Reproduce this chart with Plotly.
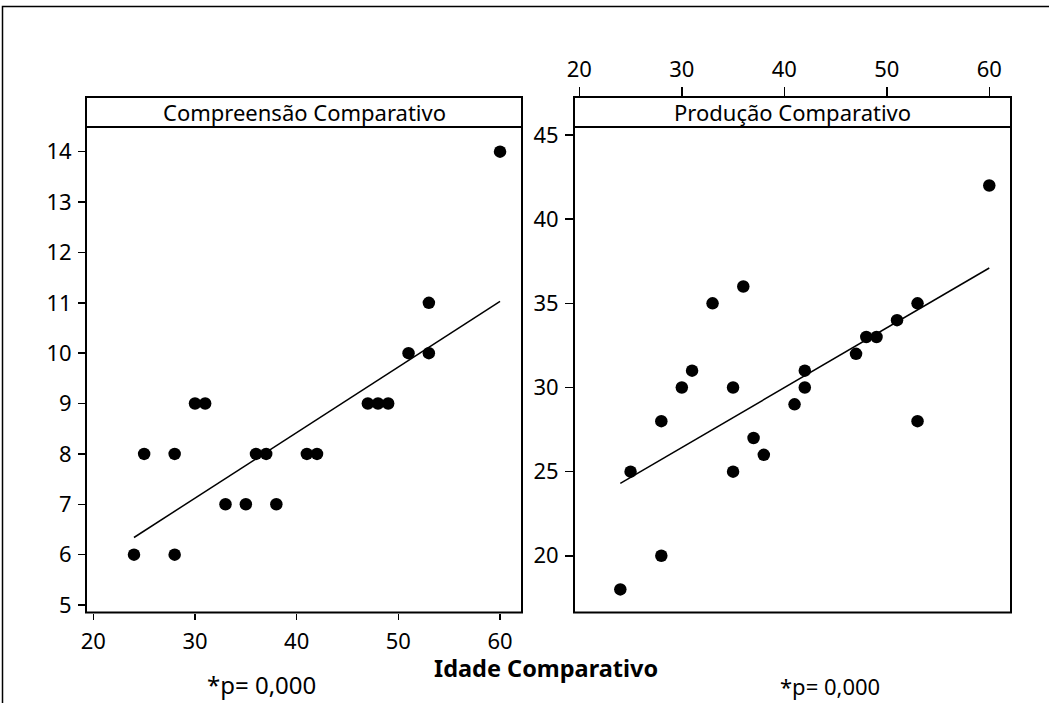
import plotly.graph_objects as go

W, H = 1049, 703

# ---------------- data ----------------
idade_comp = [24, 25, 28, 28, 30, 31, 33, 35, 36, 37, 38, 41, 42, 47, 48, 49, 51, 53, 53, 60]
compreensao = [6, 8, 8, 6, 9, 9, 7, 7, 8, 8, 7, 8, 8, 9, 9, 9, 10, 10, 11, 14]

idade_prod = [24, 25, 28, 28, 30, 31, 33, 35, 35, 36, 37, 38, 41, 42, 42, 47, 48, 49, 51, 53, 53, 60]
producao = [18, 25, 28, 20, 30, 31, 35, 30, 25, 36, 27, 26, 29, 31, 30, 32, 33, 33, 34, 35, 28, 42]

fit_x = [24, 60]
fit_comp = [6.34, 11.03]
fit_prod = [24.3, 37.1]

x_ticks = [20, 30, 40, 50, 60]
y_ticks_comp = [5, 6, 7, 8, 9, 10, 11, 12, 13, 14]
y_ticks_prod = [20, 25, 30, 35, 40, 45]

title_left = "Compreensão Comparativo"
title_right = "Produção Comparativo"
x_title = "Idade Comparativo"
p_left = "*p= 0,000"
p_right = "*p= 0,000"

# ---------------- geometry helpers ----------------
def fx(px):
    return px / W

def fy(py):
    return 1 - py / H

FONT = "Noto Sans, DejaVu Sans, sans-serif"
L_X0, L_X1 = 86, 522
R_X0, R_X1 = 574, 1011
TOP, HEAD_BOT, BOT = 97, 127, 612.5

fig = go.Figure()

mk = dict(color="black", size=12.5)
fig.add_trace(go.Scatter(x=idade_comp, y=compreensao, mode="markers", marker=mk,
                         xaxis="x", yaxis="y", showlegend=False))
fig.add_trace(go.Scatter(x=fit_x, y=fit_comp, mode="lines", line=dict(color="black", width=1.5),
                         xaxis="x", yaxis="y", showlegend=False))
fig.add_trace(go.Scatter(x=idade_prod, y=producao, mode="markers", marker=mk,
                         xaxis="x2", yaxis="y2", showlegend=False))
fig.add_trace(go.Scatter(x=fit_x, y=fit_prod, mode="lines", line=dict(color="black", width=1.5),
                         xaxis="x2", yaxis="y2", showlegend=False))

tickfont = dict(family=FONT, size=22, color="black")
common = dict(showgrid=False, zeroline=False, showline=False, ticks="outside",
              tickcolor="black", tickwidth=1.5, tickfont=tickfont, fixedrange=True,
              automargin=False)

fig.update_layout(
    template="none",
    autosize=False,
    width=W, height=H,
    margin=dict(l=0, r=0, t=0, b=0, pad=0, autoexpand=False),
    paper_bgcolor="white", plot_bgcolor="white",
    xaxis=dict(domain=[fx(L_X0), fx(L_X1)], range=[19.28, 62.16], anchor="y",
               tickvals=x_ticks, ticklen=6, ticklabelstandoff=3, **common),
    yaxis=dict(domain=[fy(BOT), fy(TOP)], range=[4.851, 15.086], anchor="x",
               tickvals=y_ticks_comp, ticklen=7, ticklabelstandoff=2, **common),
    xaxis2=dict(domain=[fx(R_X0), fx(R_X1)], range=[19.48, 62.12], anchor="y2", side="top",
                tickvals=x_ticks, ticklen=9, ticklabelstandoff=1, **common),
    yaxis2=dict(domain=[fy(BOT), fy(TOP)], range=[16.63, 47.26], anchor="x2",
                tickvals=y_ticks_prod, ticklen=8, ticklabelstandoff=2, **common),
)

shapes = []
for x0, x1 in [(L_X0, L_X1), (R_X0, R_X1)]:
    shapes.append(dict(type="rect", xref="paper", yref="paper",
                       x0=fx(x0), x1=fx(x1), y0=fy(BOT), y1=fy(TOP),
                       line=dict(color="black", width=2), fillcolor="rgba(0,0,0,0)"))
    shapes.append(dict(type="line", xref="paper", yref="paper",
                       x0=fx(x0), x1=fx(x1), y0=fy(HEAD_BOT), y1=fy(HEAD_BOT),
                       line=dict(color="black", width=2)))
# outer frame (extends past the right and bottom edges)
shapes.append(dict(type="rect", xref="paper", yref="paper",
                   x0=fx(2.5), x1=fx(1060), y0=fy(720), y1=fy(6.5),
                   line=dict(color="black", width=1.5), fillcolor="rgba(0,0,0,0)"))
fig.update_layout(shapes=shapes)

ann_font = dict(family=FONT, size=22, color="black")
fig.update_layout(annotations=[
    dict(text=title_left, x=fx((L_X0 + L_X1) / 2), y=fy(112), xref="paper", yref="paper",
         showarrow=False, xanchor="center", yanchor="middle", font=ann_font),
    dict(text=title_right, x=fx((R_X0 + R_X1) / 2), y=fy(112), xref="paper", yref="paper",
         showarrow=False, xanchor="center", yanchor="middle", font=ann_font),
    dict(text="<b>" + x_title + "</b>", x=fx(546), y=fy(668), xref="paper", yref="paper",
         showarrow=False, xanchor="center", yanchor="middle",
         font=dict(family=FONT, size=23.5, color="black")),
    dict(text=p_left, x=fx(261), y=fy(702), xref="paper", yref="paper",
         showarrow=False, xanchor="center", yanchor="bottom", borderpad=0,
         font=dict(family=FONT, size=24, color="black")),
    dict(text=p_right, x=fx(830), y=fy(702), xref="paper", yref="paper",
         showarrow=False, xanchor="center", yanchor="bottom", borderpad=0,
         font=dict(family=FONT, size=22, color="black")),
])

fig.write_html("out.html", config={"displayModeBar": False, "staticPlot": True},
               post_script="document.body.style.margin='0px';")
